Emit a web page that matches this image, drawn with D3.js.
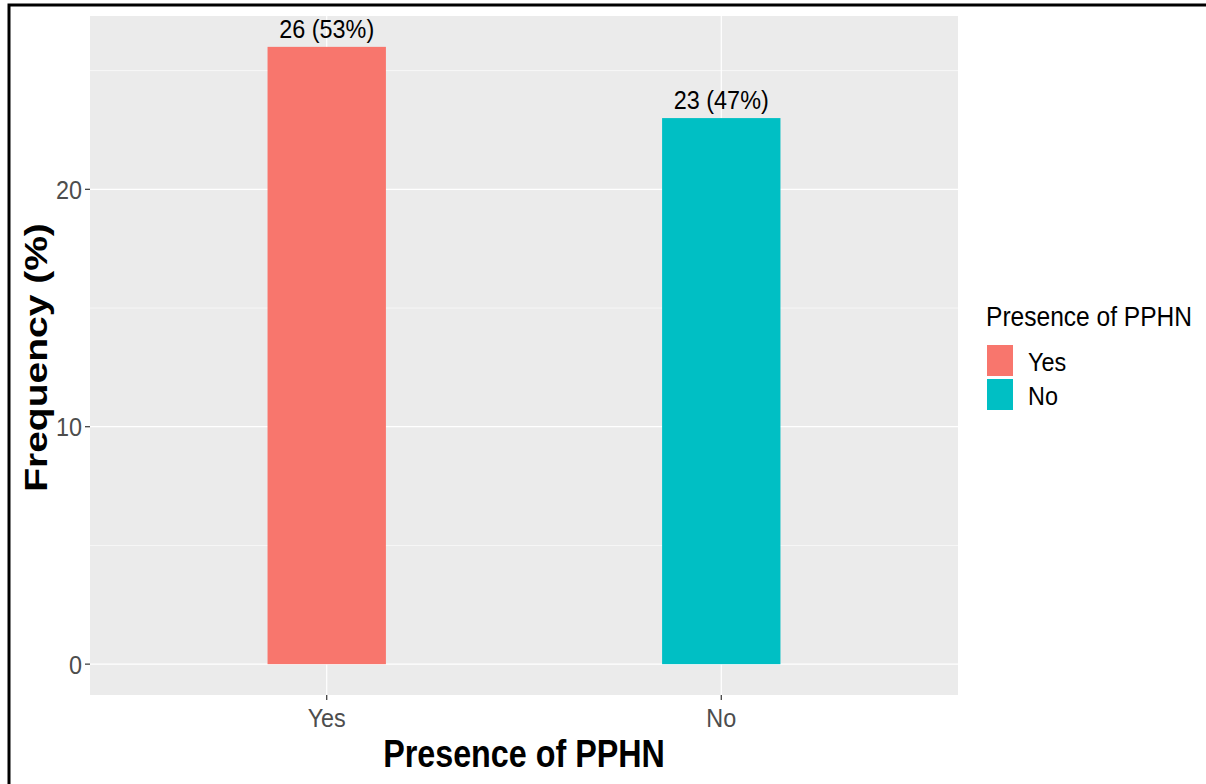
<!DOCTYPE html>
<html><head><meta charset="utf-8">
<script src="https://cdn.jsdelivr.net/npm/d3@7"></script>
<style>body{margin:0;background:#fff}svg{display:block}text{font-family:"Liberation Sans",Arial,sans-serif}</style>
</head><body>
<script>
const categories = ["Yes", "No"];
const counts = [26, 23];
const percentLabels = ["53%", "47%"];
const colors = ["#F8766D", "#00BFC4"];
const yTicks = [0, 10, 20];
const yMinor = [5, 15, 25];

const W = 1206, H = 784;
const P = {left: 90, right: 958, top: 16, bottom: 695};
const K = 0.87; // horizontal text compression

const svg = d3.select("body").append("svg").attr("width", W).attr("height", H);

const yMax = d3.max(counts);
const y = d3.scaleLinear().domain([-yMax*0.05, yMax*1.05]).range([P.bottom, P.top]);
const xc = d3.scalePoint().domain(categories).range([0, 1]);
// discrete scale with 0.6 expansion on each side
const step = (P.right - P.left) / (categories.length - 1 + 1.2);
const x = d => P.left + step * (0.6 + categories.indexOf(d));
const barW = step * 0.3;

svg.append("rect").attr("x", P.left).attr("y", P.top).attr("width", P.right-P.left).attr("height", P.bottom-P.top).attr("fill", "#EBEBEB");

const g = svg.append("g");
yMinor.forEach(v => g.append("line").attr("x1", P.left).attr("x2", P.right).attr("y1", y(v)).attr("y2", y(v)).attr("stroke", "#fff").attr("stroke-width", 0.6));
yTicks.forEach(v => g.append("line").attr("x1", P.left).attr("x2", P.right).attr("y1", y(v)).attr("y2", y(v)).attr("stroke", "#fff").attr("stroke-width", 1.2));
categories.forEach(c => g.append("line").attr("x1", x(c)).attr("x2", x(c)).attr("y1", P.top).attr("y2", P.bottom).attr("stroke", "#fff").attr("stroke-width", 1.2));

function txt(sel, xx, yy, s, opts) {
  const t = sel.append("text").attr("transform", `translate(${xx},${yy}) scale(${opts.k||K},1)` + (opts.rot ? " rotate(-90)" : ""))
    .attr("font-size", opts.size).attr("fill", opts.fill || "#000").attr("text-anchor", opts.anchor || "middle")
    .attr("font-weight", opts.weight || "normal").text(s);
  return t;
}

categories.forEach((c, i) => {
  svg.append("rect").attr("x", x(c) - barW/2).attr("y", y(counts[i])).attr("width", barW).attr("height", y(0) - y(counts[i])).attr("fill", colors[i]);
  txt(svg, x(c), y(counts[i]) - 9, `${counts[i]} (${percentLabels[i]})`, {size: 26, k: 0.9});
});

// y axis
yTicks.forEach(v => {
  svg.append("line").attr("x1", P.left - 5).attr("x2", P.left).attr("y1", y(v)).attr("y2", y(v)).attr("stroke", "#333").attr("stroke-width", 1.2);
  txt(svg, P.left - 8, y(v) + 9.5, String(v), {size: 26, fill: "#4D4D4D", anchor: "end", k: 0.9});
});
// x axis
categories.forEach(c => {
  svg.append("line").attr("x1", x(c)).attr("x2", x(c)).attr("y1", P.bottom).attr("y2", P.bottom + 5).attr("stroke", "#333").attr("stroke-width", 1.2);
  txt(svg, x(c), P.bottom + 32, c, {size: 26, fill: "#4D4D4D", k: 0.9});
});

// titles
txt(svg, (P.left + P.right)/2, 767, "Presence of PPHN", {size: 38, weight: "bold", k: 0.85});
svg.append("text").attr("transform", `translate(47,${(P.top+P.bottom)/2 + 2}) scale(0.82,1) rotate(-90)`)
  .attr("font-size", 39).attr("font-weight", "bold").attr("text-anchor", "middle").text("Frequency (%)");

// legend
const L = svg.append("g");
txt(L, 986, 326, "Presence of PPHN", {size: 27, anchor: "start", k: 0.91});
categories.forEach((c, i) => {
  L.append("rect").attr("x", 987).attr("y", 345 + i*34).attr("width", 26).attr("height", 31).attr("fill", colors[i]);
  txt(L, 1028, 371 + i*34, c, {size: 26, anchor: "start", k: 0.9});
});

// outer border
svg.append("rect").attr("x", 9).attr("y", 5).attr("width", 1400).attr("height", 1000).attr("fill", "none").attr("stroke", "#000").attr("stroke-width", 3);
</script>
</body></html>
